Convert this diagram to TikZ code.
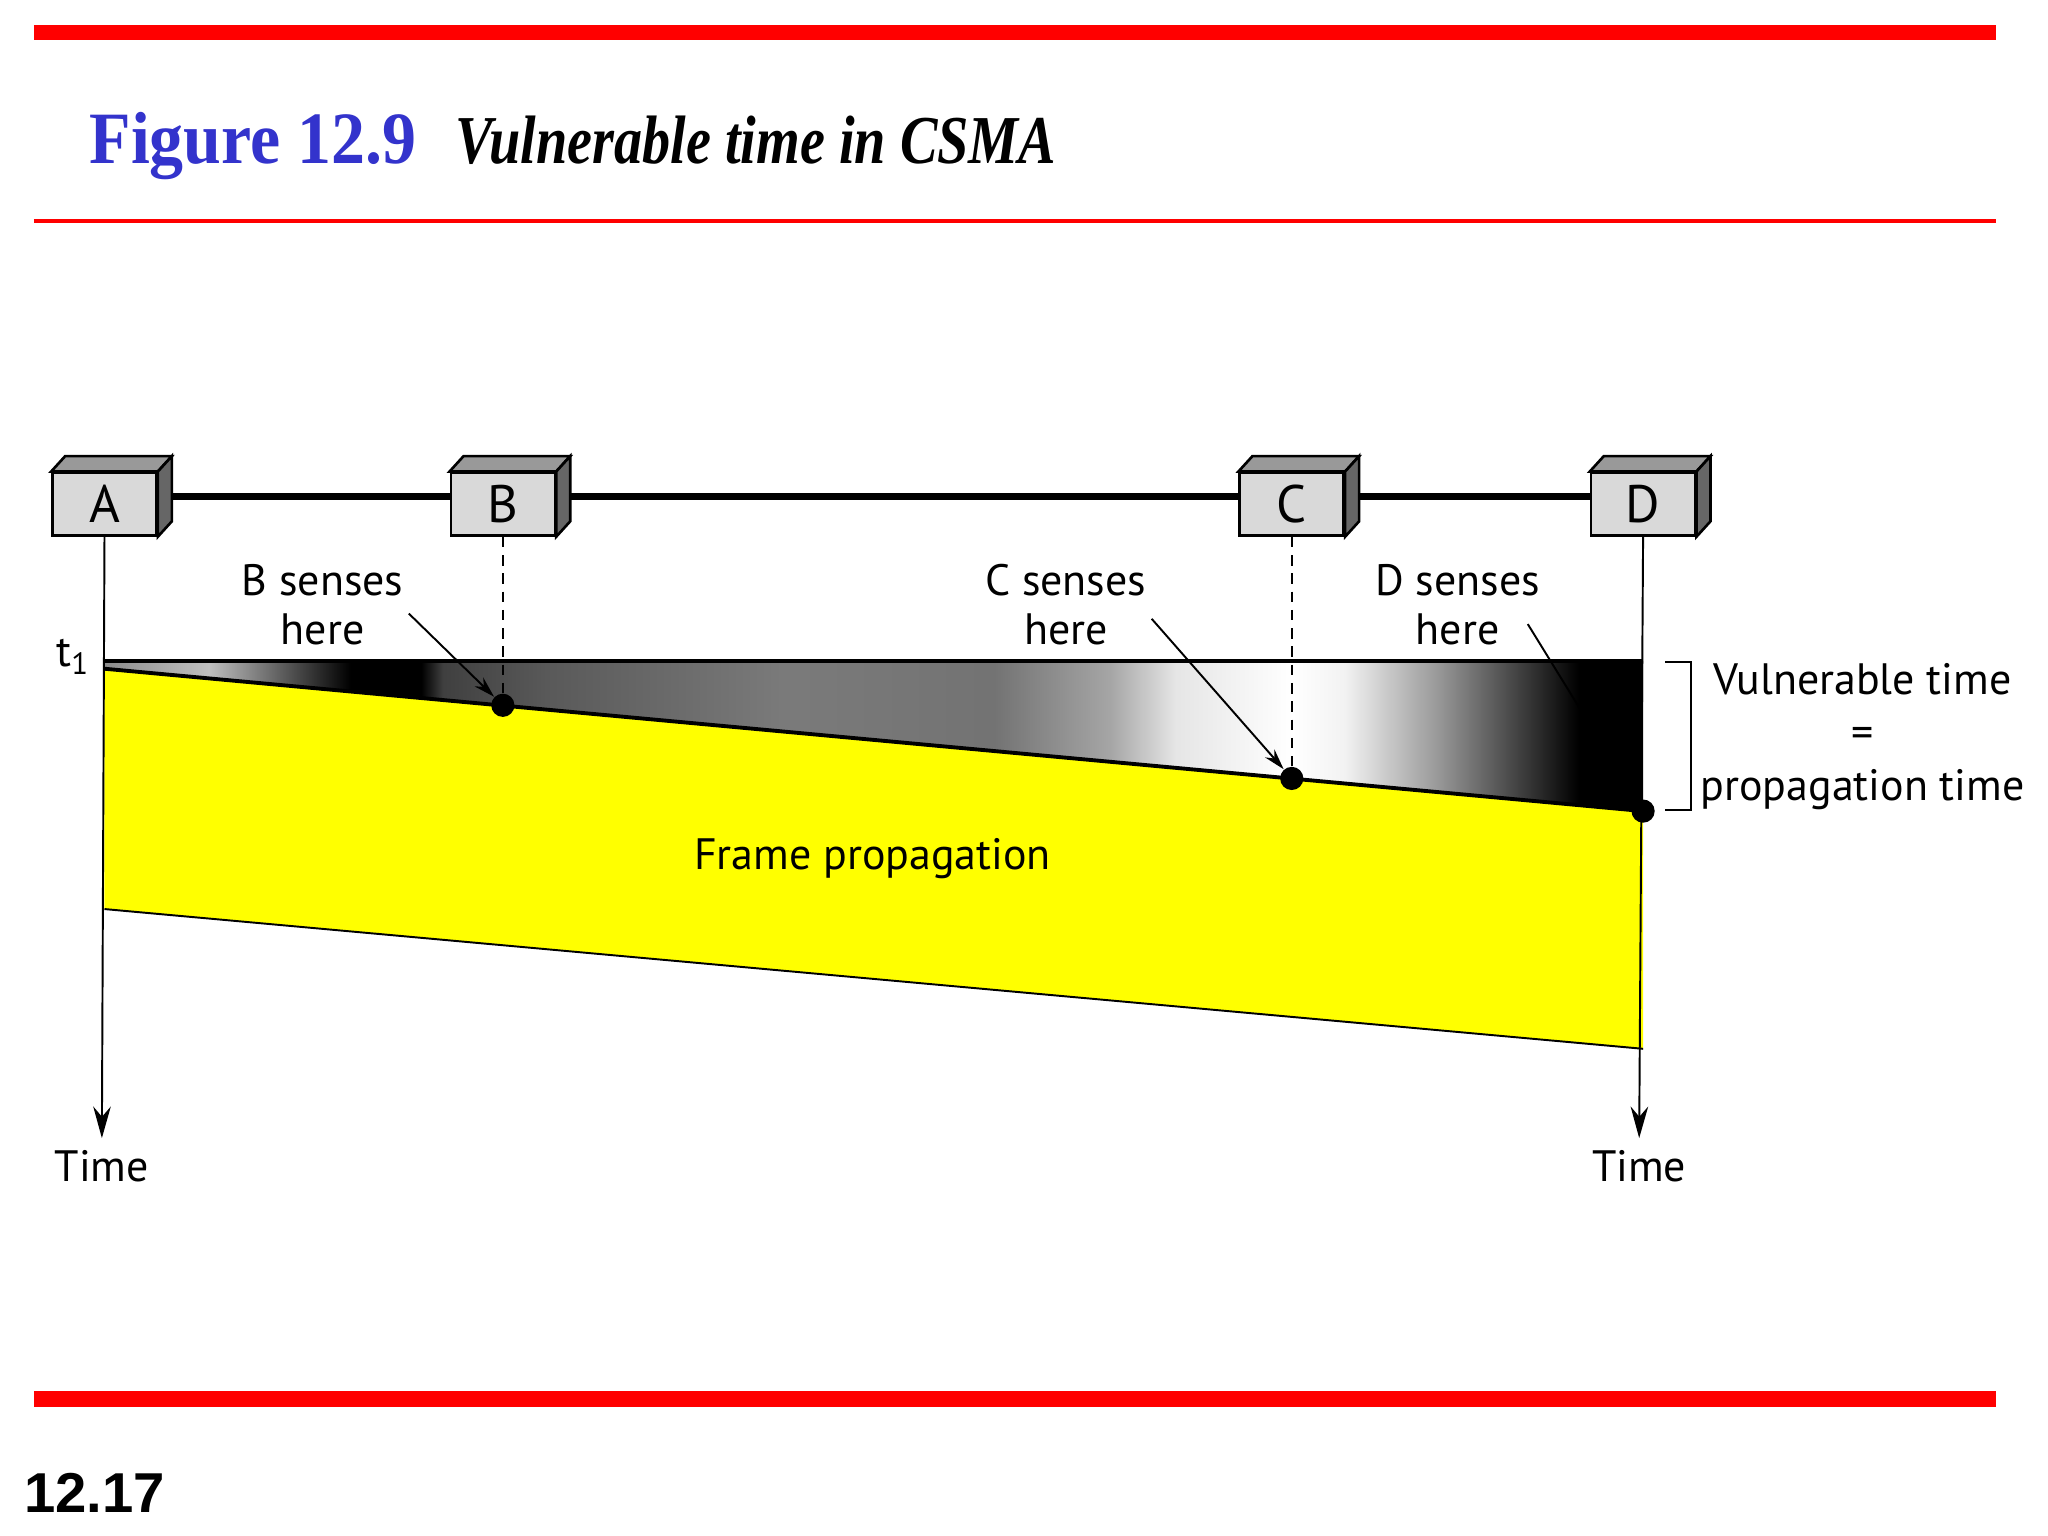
\documentclass[tikz,border=0pt]{standalone}
\usepackage{fontspec}
\setmainfont{Liberation Serif}
\setsansfont{PT Sans}
\newfontfamily\figfont[FakeStretch=0.92]{Liberation Serif}
\newfontfamily\captfont[FakeStretch=0.82]{Liberation Serif}
\newfontfamily\pagefont{Liberation Sans}
\usetikzlibrary{positioning,arrows.meta,backgrounds}
\definecolor{slidered}{RGB}{255,0,0}
\definecolor{titleblue}{RGB}{51,51,204}
\definecolor{frameyellow}{RGB}{255,255,0}
\pgfdeclarehorizontalshading{vulnshade}{100bp}{color(0bp)=(black!45); color(25bp)=(black!45);
  color(28.4bp)=(black!25); color(33bp)=(black); color(35.3bp)=(black); color(36bp)=(black!75);
  color(39.4bp)=(black!65); color(47.1bp)=(black!52); color(53.9bp)=(black!55); color(57.7bp)=(black!35);
  color(59.8bp)=(black!10); color(63.6bp)=(white); color(65.3bp)=(black!5); color(68.3bp)=(black!40);
  color(72.9bp)=(black); color(75bp)=(black); color(100bp)=(black)}

\begin{document}
\begin{tikzpicture}[x=0.013061cm,y=-0.013061cm,
  station/.style={draw,line width=0.75pt,fill=black!15,minimum width=29.6pt,minimum height=17.8pt,
    inner sep=0pt,font=\sffamily\fontsize{15}{15}\selectfont},
  note/.style={align=center,font=\sffamily\fontsize{12.5}{13.8}\selectfont},
  dot/.style={circle,fill=black,minimum size=6.6pt,inner sep=0pt},
  timeline/.style={line width=0.55pt,-{Stealth[length=9pt,width=5pt]}},
  sensor/.style={line width=0.55pt,dash pattern=on 3pt off 2.2pt},
  pointer/.style={line width=0.55pt,-{Stealth[length=6pt,width=3.5pt]}}]
\useasboundingbox (0,0) rectangle (1568,1176);

% slide frame
\draw[slidered,line width=4.4pt] (26,25) -- (1528,25);
\draw[slidered,line width=1.1pt] (26,169) -- (1528,169);
\draw[slidered,line width=4.4pt] (26,1071) -- (1528,1071);
\node[anchor=base west,inner sep=0pt,text=titleblue,font=\figfont\bfseries\fontsize{21}{21}\selectfont] (fig) at (68,125) {Figure 12.9};
\node[anchor=base west,inner sep=0pt,font=\captfont\bfseries\itshape\fontsize{19.5}{19.5}\selectfont] (caption) at (348,125) {Vulnerable time in CSMA};
\node[anchor=base west,inner sep=0pt,font=\pagefont\bfseries\fontsize{16}{16}\selectfont] (page) at (18,1158) {12.17};

% stations on the bus
\node[station] (A) at (80,386) {A};
\node[station] (B) at (385,386) {B};
\node[station] (C) at (989,386) {C};
\node[station] (D) at (1258,386) {D};
\foreach \s in {A,B,C,D}{
  \filldraw[fill=black!40,line width=0.75pt] (\s.north west) -- ++(4pt,4.4pt) -- ([shift={(4pt,4.4pt)}]\s.north east) -- (\s.north east) -- cycle;
  \filldraw[fill=black!60,line width=0.75pt] (\s.north east) -- ++(4pt,4.4pt) -- ([shift={(4pt,4.4pt)}]\s.south east) -- (\s.south east) -- cycle;
}
\begin{scope}[on background layer]
\draw[line width=1.9pt] ([yshift=2.2pt]A.east) -- ([yshift=2.2pt]D.west);
\end{scope}

% vulnerable band and frame
\shade[shading=vulnshade] (80,506) -- (1258,506) -- (1258,621) -- (80,512) -- cycle;
\fill[frameyellow] (80,512) -- (1258,621) -- (1258,803) -- (80,696) -- cycle;
\draw[line width=0.55pt] (80,696) -- (1258,803);
\draw[line width=1.1pt] (80,512) -- (1258,621);
\draw[line width=1.1pt] (80,506) -- (1258,506);
\node[note,anchor=east,inner sep=1pt] (t1) at (72,503) {t\textsubscript{1}};
\node[note] (frame) at (668,657) {Frame propagation};

% sensing points
\node[dot] (Bsense) at (385,540) {};
\node[dot] (Csense) at (989,596) {};
\node[dot] (Dsense) at (1258,621) {};
\draw[sensor] (B.south) -- (Bsense);
\draw[sensor] (C.south) -- (Csense);

% time axes
\node[note] (Atime) at (78,893) {Time};
\node[note] (Dtime) at (1255,893) {Time};
\draw[timeline] (A.south) -- (Atime.north);
\draw[timeline] (D.south) -- (Dtime.north);

% notes
\node[note] (Bnote) at (247,463) {B senses\\here};
\node[note] (Cnote) at (816,463) {C senses\\here};
\node[note] (Dnote) at (1116,463) {D senses\\here};
\draw[pointer] ([shift={(-2pt,-2.5pt)}]Bnote.east) -- (Bsense);
\draw[pointer] ([shift={(-2pt,-4pt)}]Cnote.east) -- (Csense);
\draw[pointer] ([shift={(-7pt,-5.5pt)}]Dnote.east) -- (Dsense);

% bracket
\draw[line width=0.55pt] (1275,507) -- (1295,507) -- (1295,620) -- (1275,620);
\node[note,font=\sffamily\fontsize{12.5}{15}\selectfont] (vuln) at (1426,564) {Vulnerable time\\=\\propagation time};
\end{tikzpicture}
\end{document}
